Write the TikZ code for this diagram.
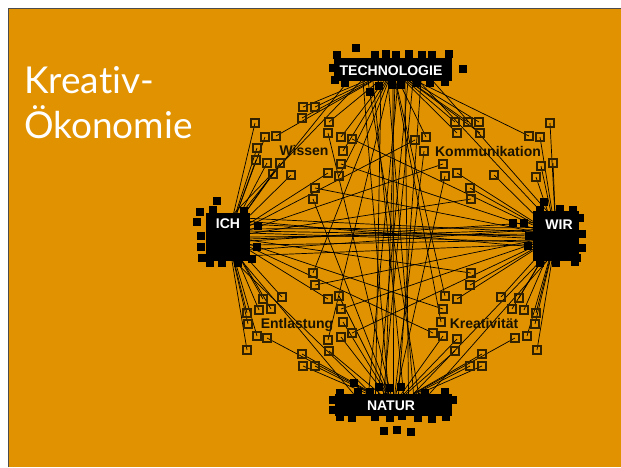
\documentclass[tikz,border=0pt]{standalone}
\usepackage{fontspec}
\setmainfont{Liberation Sans}
\newfontfamily\titlefont[Ligatures=NoCommon]{Lato}
\usetikzlibrary{calc}
\pgfdeclarelayer{back}
\pgfdeclarelayer{wires}
\pgfsetlayers{back,wires,main}
\definecolor{bgc}{RGB}{224,146,0}
\definecolor{sqc}{RGB}{50,34,0}
\definecolor{lblc}{RGB}{25,18,0}
\begin{document}
\begin{tikzpicture}[x=1pt,y=-1pt,
  sq/.style={draw=sqc, line width=1.3pt, rectangle, minimum size=8pt, inner sep=0pt},
  hub/.style={fill=black, draw=none, rectangle, inner sep=0pt},
  hublbl/.style={text=white, font=\bfseries\fontsize{14}{14}\selectfont, inner sep=0pt, anchor=base},
  topic/.style={text=lblc, font=\bfseries\fontsize{14}{14}\selectfont, inner sep=0pt, anchor=base},
  wire/.style={line width=0.7pt, black},
  ttl/.style={text=white, font=\titlefont\fontsize{37}{37}\selectfont, inner sep=0pt, anchor=base west}]
\useasboundingbox (0,0) rectangle (621,467);
\begin{pgfonlayer}{back}
\fill[white] (0,0) rectangle (621,467);
\fill[bgc] (8,8) rectangle (621,467);
\draw[line width=1pt, black!70] (8.5,467) -- (8.5,8.5) -- (621,8.5);
\end{pgfonlayer}

% hubs
\node[hub, minimum width=118pt, minimum height=23pt] (TECH) at (393,69.5) {};
\node[hub, minimum width=44pt, minimum height=48pt] (ICH) at (228,237) {};
\node[hub, minimum width=46pt, minimum height=50pt] (WIR) at (556,236) {};
\node[hub, minimum width=117pt, minimum height=22pt] (NATUR) at (393.5,405) {};

% small squares and their connectors
\foreach \n/\x/\y/\h in {
 a1/303/107/TECH, a2/315/107/TECH, a3/302/118/TECH, a4/255/123/ICH, a5/265/137/ICH,
 a6/276/136/TECH, a7/257/148/ICH, a8/256/160/ICH, a9/267/163/ICH, a10/280/163/ICH,
 a11/273/174/ICH, a12/291/175/ICH, a13/329/122/TECH, a14/328/133/NATUR, a15/341/137/TECH,
 a16/352/139/WIR, a17/343/151/TECH, a18/341/164/WIR, a19/328/173/ICH, a20/339/176/TECH,
 a21/315/188/WIR, a22/313/199/NATUR,
 b1/455/122/TECH, b2/468/122/TECH, b3/479/122/TECH, b4/457/133/TECH, b5/480/133/TECH,
 b6/426/137/TECH, b7/415/140/ICH, b8/424/151/NATUR, b9/443/164/ICH, b10/445/176/NATUR,
 b11/457/173/WIR, b12/470/188/WIR, b13/471/199/ICH, b14/494/175/WIR, b15/529/136/TECH,
 b16/540/137/WIR, b17/550/123/WIR, b18/541/166/WIR, b19/553/163/WIR, b20/536/177/WIR,
 c1/313/273/TECH, c2/315/285/WIR, c3/328/299/ICH, c4/339/296/NATUR, c5/341/309/WIR,
 c6/343/322/NATUR, c7/352/333/WIR, c8/341/337/NATUR, c9/328/340/TECH, c10/329/351/NATUR,
 c11/302/354/NATUR, c12/303/366/NATUR, c13/315/366/NATUR, c14/263/299/ICH, c15/282/297/ICH,
 c16/259/310/ICH, c17/271/309/ICH, c18/247/313/ICH, c19/248/324/ICH, c20/257/336/ICH,
 c21/267/338/NATUR, c22/247/350/ICH,
 d1/471/273/ICH, d2/470/285/WIR, d3/457/299/WIR, d4/445/296/TECH, d5/443/309/ICH,
 d6/441/322/TECH, d7/433/333/ICH, d8/443/336/NATUR, d9/457/339/NATUR, d10/455/351/NATUR,
 d11/482/354/NATUR, d12/470/366/NATUR, d13/482/366/NATUR, d14/501/297/WIR, d15/519/298/WIR,
 d16/512/309/WIR, d17/524/310/WIR, d18/536/313/WIR, d19/535/324/WIR, d20/527/336/WIR,
 d21/515/338/NATUR, d22/537/350/WIR}
{
  \node[sq] (\n) at (\x,\y) {};
  \begin{pgfonlayer}{wires}
    \draw[wire] (\n.center) -- (\h);
  \end{pgfonlayer}
}

% hub to hub connectors
\begin{pgfonlayer}{wires}
\foreach \a/\b in {40/170, 30/186, 20/160, 10/195, 0/175, -10/150, -20/190, -30/165, -40/200, 35/205, 15/180, -5/165}
  \draw[wire] (ICH.\a) -- (WIR.\b);
\foreach \a/\b in {-30/-5, -20/10, -12/-18, -5/20, 0/0, 5/-25, 12/15, 20/-10, 28/5, -25/25, 15/-15, 2/-8}
  \draw[wire] ([xshift=\a pt]TECH.south) -- ([xshift=\b pt]NATUR.north);
\draw[wire] (ICH.60) -- ([xshift=-45pt]TECH.south);
\draw[wire] (ICH.75) -- ([xshift=-32pt]TECH.south);
\draw[wire] (WIR.110) -- ([xshift=40pt]TECH.south);
\draw[wire] (WIR.122) -- ([xshift=26pt]TECH.south);
\draw[wire] (ICH.-60) -- ([xshift=-40pt]NATUR.north);
\draw[wire] (ICH.-75) -- ([xshift=-22pt]NATUR.north);
\draw[wire] (WIR.-110) -- ([xshift=36pt]NATUR.north);
\draw[wire] (WIR.-122) -- ([xshift=20pt]NATUR.north);
\end{pgfonlayer}

% pixel bumps of the hubs
\foreach \x/\y in {356/48, 463/69, 370/92, 379/86, 392/85, 401/85, 417/83, 337/55, 375/55,
  386/54, 396/55, 409/54, 422/55, 432/55, 449/54, 333/68, 335/80, 345/83, 430/83, 445/82,
  217/201, 200/212, 197/222, 201/236, 201/247, 258/226, 257/247, 213/210, 244/211, 210/263,
  222/263, 238/263, 252/259, 202/258,
  544/202, 513/223, 524/223, 528/246, 529/236, 580/218, 582/234, 582/248, 577/258, 540/210,
  560/209, 573/210, 540/263, 556/263, 575/262,
  354/383, 379/387, 390/388, 401/387, 384/431, 397/430, 411/432, 340/393, 358/392, 370/392,
  425/393, 445/392, 333/400, 333/410, 340/417, 352/418, 375/417, 390/418, 402/416, 418/418,
  432/419, 446/417, 453/400}
  \fill[black] (\x-4,\y-4) rectangle (\x+4,\y+4);

% hub labels
\node[hublbl] (TECHt) at (391,75) {TECHNOLOGIE};
\node[hublbl] (ICHt) at (228,228) {ICH};
\node[hublbl] (WIRt) at (559,229) {WIR};
\node[hublbl] (NATURt) at (391,410) {NATUR};

% topic labels
\node[topic] (wis) at (304,155) {Wissen};
\node[topic] (kom) at (488,156) {Kommunikation};
\node[topic] (ent) at (297,328) {Entlastung};
\node[topic] (kre) at (484,328) {Kreativität};

% title
\node[ttl] (t1) at (24,93) {Kreativ-};
\node[ttl] (t2) at (24,138) {Ökonomie};
\end{tikzpicture}
\end{document}
